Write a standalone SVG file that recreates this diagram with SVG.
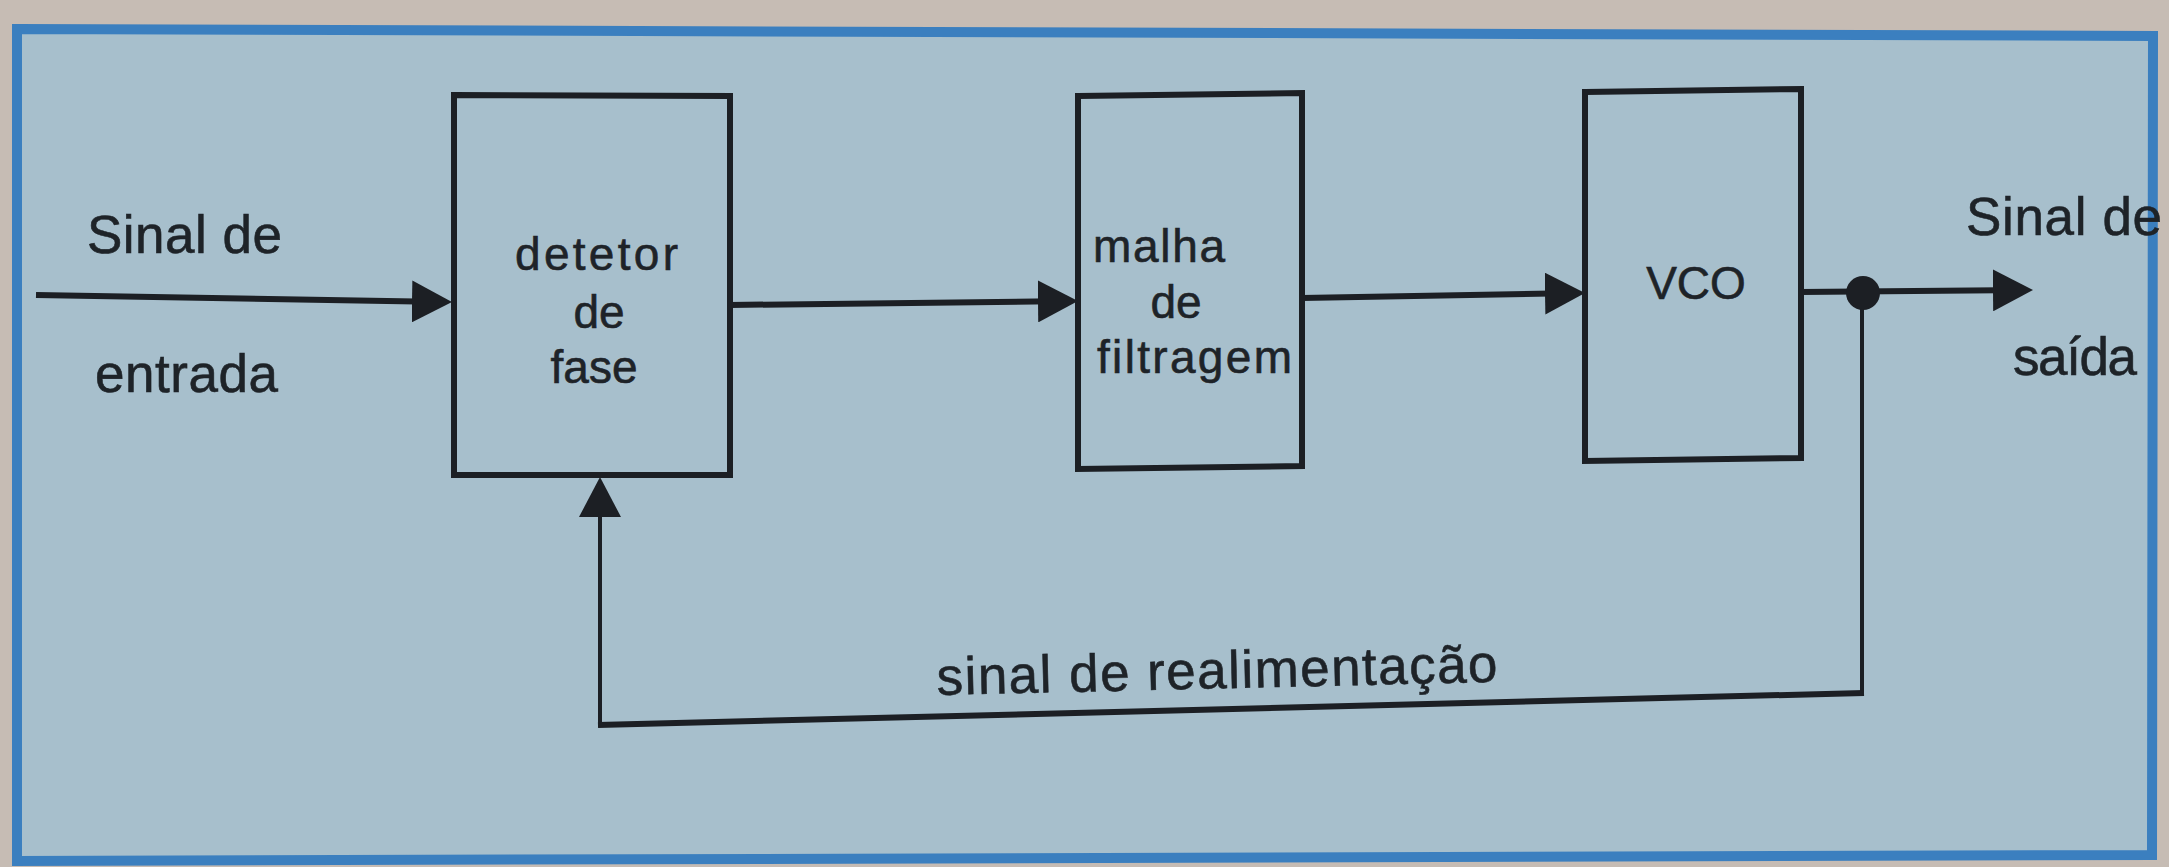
<svg xmlns="http://www.w3.org/2000/svg" width="2169" height="867" viewBox="0 0 2169 867">
  <defs>
    <style>
      .frame { fill: #a7bfcc; stroke: #3b7fbf; stroke-width: 10; stroke-linejoin: miter; }
      .box { fill: none; stroke: #1c1f24; stroke-width: 6; stroke-linejoin: miter; }
      .wire { fill: none; stroke: #1c1f24; stroke-width: 6; stroke-linecap: butt; }
      .thin { fill: none; stroke: #1c1f24; stroke-width: 4; }
      .lbl { font-family: "Liberation Sans", Arial, sans-serif; font-size: 53px; fill: #1e2328; stroke: #1e2328; stroke-width: 0.6; }
      .btx { font-family: "Liberation Sans", Arial, sans-serif; font-size: 46px; fill: #1e2328; stroke: #1e2328; stroke-width: 0.6; }
      .mid { text-anchor: middle; }
    </style>
    <marker id="arrow" viewBox="0 0 40 42" refX="34" refY="21" markerWidth="40" markerHeight="42" markerUnits="userSpaceOnUse" orient="auto">
      <path d="M0,0 L40,21 L0,42 Z" fill="#1c1f24"/>
    </marker>
  </defs>

  <rect x="0" y="0" width="2169" height="867" fill="#c6bcb4"/>
  <polygon class="frame" points="17,29 2153,36 2152,855 17,861"/>

  <g id="connectors">
    <line class="wire" x1="36" y1="295" x2="446" y2="302" marker-end="url(#arrow)"/>
    <line class="wire" x1="730" y1="305" x2="1072" y2="301" marker-end="url(#arrow)"/>
    <line class="wire" x1="1302" y1="298" x2="1579" y2="293" marker-end="url(#arrow)"/>
    <line class="wire" x1="1801" y1="292" x2="2027" y2="290" marker-end="url(#arrow)"/>
    <line class="thin" x1="1862" y1="292" x2="1862" y2="695"/>
    <line class="wire" x1="1864" y1="693" x2="598" y2="725"/>
    <line class="thin" x1="600" y1="727" x2="600" y2="483" marker-end="url(#arrow)"/>
    <circle cx="1863" cy="293" r="17" fill="#1c1f24"/>
  </g>

  <g id="detetor">
    <polygon class="box" points="454,95 730,96 730,475 454,475"/>
    <text class="btx" x="515" y="270" textLength="163" lengthAdjust="spacing">detetor</text>
    <text class="btx mid" x="599" y="328">de</text>
    <text class="btx mid" x="594" y="383">fase</text>
  </g>

  <g id="filtro">
    <polygon class="box" points="1078,96 1302,93 1302,466 1078,469"/>
    <text class="btx" x="1093" y="262" textLength="132" lengthAdjust="spacing">malha</text>
    <text class="btx mid" x="1176" y="318">de</text>
    <text class="btx" x="1097" y="373" textLength="195" lengthAdjust="spacing">filtragem</text>
  </g>

  <g id="vco">
    <polygon class="box" points="1585,92 1801,89 1801,458 1585,461"/>
    <text class="btx mid" x="1696" y="299">VCO</text>
  </g>

  <g id="labels">
    <text class="lbl" x="87" y="253" textLength="195" lengthAdjust="spacing">Sinal de</text>
    <text class="lbl" x="95" y="392" textLength="183" lengthAdjust="spacing">entrada</text>
    <text class="lbl" x="1966" y="235" textLength="196" lengthAdjust="spacing">Sinal de</text>
    <text class="lbl" x="2013" y="375" textLength="124" lengthAdjust="spacing">saída</text>
    <text class="lbl" x="937" y="695" font-size="51" textLength="561" lengthAdjust="spacing" transform="rotate(-1.35 937 695)">sinal de realimentação</text>
  </g>
</svg>
